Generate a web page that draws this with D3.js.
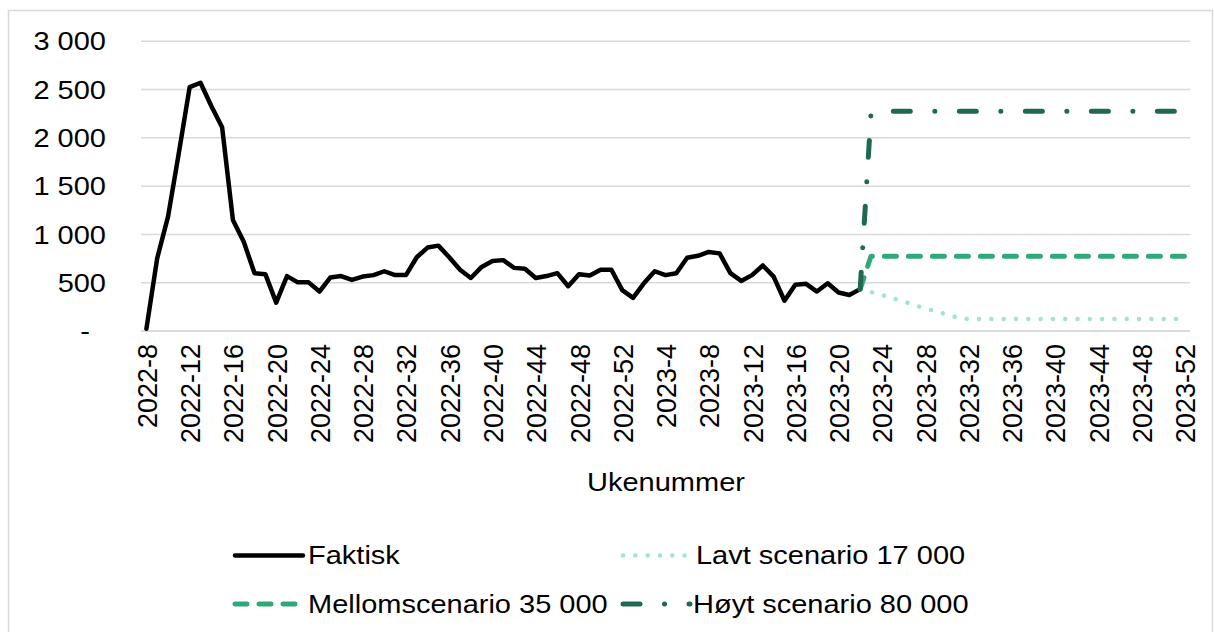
<!DOCTYPE html>
<html>
<head>
<meta charset="utf-8">
<script src="https://cdnjs.cloudflare.com/ajax/libs/d3/7.8.5/d3.min.js"></script>
<style>
  body { margin: 0; background: #fff; }
  text { font-family: "Liberation Sans", Arial, sans-serif; fill: #000; }
</style>
</head>
<body>
<script>
// week categories 2022-8 .. 2023-52
weeks = d3.range(8, 53).map(w => "2022-" + w).concat(d3.range(1, 53).map(w => "2023-" + w));
tickWeeks = weeks.filter((d, i) => i % 4 === 0);

yTicks = [0, 500, 1000, 1500, 2000, 2500, 3000];

// actual numbers, 2022-8 .. 2023-22
faktisk = [20, 750, 1180, 1840, 2520, 2565, 2325, 2105, 1145, 920,
  595, 585, 290, 565, 500, 500, 405, 550, 565, 525,
  560, 575, 615, 575, 575, 760, 860, 880, 760, 630,
  545, 660, 720, 730, 650, 640, 545, 565, 595, 460,
  585, 570, 630, 630, 420, 340, 490, 615, 575, 595,
  755, 775, 815, 800, 595, 515, 575, 675, 560, 310,
  475, 485, 405, 490, 395, 370, 430];

// scenarios, 2023-22 .. 2023-52
lavt = [430, 400, 370, 335, 305, 265, 230, 200, 170, 135,
  120, 120, 120, 120, 120, 120, 120, 120, 120, 120,
  120, 120, 120, 120, 120, 120, 120, 120, 120, 120, 120];
mellom = [430, 770, 770, 770, 770, 770, 770, 770, 770, 770,
  770, 770, 770, 770, 770, 770, 770, 770, 770, 770,
  770, 770, 770, 770, 770, 770, 770, 770, 770, 770, 770];
hoyt = [430, 2240, 2270, 2270, 2270, 2270, 2270, 2270, 2270, 2270,
  2270, 2270, 2270, 2270, 2270, 2270, 2270, 2270, 2270, 2270,
  2270, 2270, 2270, 2270, 2270, 2270, 2270, 2270, 2270, 2270, 2270];
scenStart = weeks.indexOf("2023-22");

seriesNames = ["Faktisk", "Lavt scenario 17 000", "Mellomscenario 35 000", "Høyt scenario 80 000"];

w = 1214;
h = 632;
SX = 1.16; // text in the source is a bit wide

styles = {
  "Faktisk": {color: "#000000", width: 4.5, dash: null},
  "Lavt scenario 17 000": {color: "#a3e4cd", width: 4.5, dash: "0.01,12.3"},
  "Mellomscenario 35 000": {color: "#31a878", width: 5, dash: "12,12"},
  "Høyt scenario 80 000": {color: "#1f6a4e", width: 5, dash: "17,24.5,0.01,24.5"}
};

svg = d3.select("body").append("svg")
  .attr("width", w)
  .attr("height", h);

svg.append("rect")
  .attr("x", 8.5).attr("y", 10.5)
  .attr("width", 1204).attr("height", 640)
  .attr("fill", "#fff")
  .attr("stroke", "#d9d9d9")
  .attr("stroke-width", 1.5);

x = d3.scalePoint().domain(weeks).range([141, 1190]).padding(0.5);
y = d3.scaleLinear().domain([0, 3000]).range([330.7, 40.7]);

fmt = d3.formatLocale({decimal: ",", thousands: "\u00a0", grouping: [3], currency: ["", ""]}).format(",d");

// y axis + gridlines
yAxis = svg.append("g")
  .attr("transform", "translate(141,0)")
  .call(d3.axisLeft(y).tickValues(yTicks).tickSize(-1049).tickFormat(v => v === 0 ? "-" : fmt(v)));
yAxis.select(".domain").remove();
yAxis.selectAll(".tick line").attr("stroke", "#d9d9d9").attr("stroke-width", 1.5);
yAxis.selectAll(".tick text")
  .attr("x", 0).attr("dy", "0.36em")
  .attr("font-size", 25)
  .attr("text-anchor", "end")
  .attr("transform", d => "translate(" + (d === 0 ? -51 : -35) + ",0) scale(" + SX + ",1)");

// x axis
xAxis = svg.append("g")
  .attr("transform", "translate(0,331)")
  .call(d3.axisBottom(x).tickValues(tickWeeks).tickSize(0));
xAxis.select(".domain").attr("stroke", "#d9d9d9").attr("stroke-width", 1.5)
  .attr("d", "M141,0H1190");
xAxis.selectAll(".tick text")
  .attr("x", 0).attr("y", 0).attr("dy", "0.36em")
  .attr("font-size", 27)
  .attr("text-anchor", "end")
  .attr("transform", "translate(0,13) scale(1.03,1) rotate(-90)");

svg.append("text")
  .attr("transform", "translate(666,491) scale(" + SX + ",1)")
  .attr("text-anchor", "middle")
  .attr("font-size", 25)
  .text("Ukenummer");

// lines
lineGen = d3.line().x(d => x(d.week)).y(d => y(d.value));

seriesData = [
  {name: seriesNames[0], pts: faktisk.map((v, i) => ({week: weeks[i], value: v}))},
  {name: seriesNames[1], pts: lavt.map((v, i) => ({week: weeks[scenStart + i], value: v}))},
  {name: seriesNames[2], pts: mellom.map((v, i) => ({week: weeks[scenStart + i], value: v}))},
  {name: seriesNames[3], pts: hoyt.map((v, i) => ({week: weeks[scenStart + i], value: v}))}
];

svg.selectAll(".series")
  .data(seriesData)
  .enter()
  .append("path")
    .attr("class", "series")
    .attr("d", d => lineGen(d.pts))
    .attr("fill", "none")
    .attr("stroke", d => styles[d.name].color)
    .attr("stroke-width", d => styles[d.name].width)
    .attr("stroke-linecap", "round")
    .attr("stroke-linejoin", "round")
    .attr("stroke-dasharray", d => styles[d.name].dash);

// legend
legendPos = [
  {name: seriesNames[0], x: 235, y: 555.5},
  {name: seriesNames[1], x: 623, y: 555.5},
  {name: seriesNames[2], x: 235, y: 604},
  {name: seriesNames[3], x: 623, y: 604}
];

legend = svg.selectAll(".legend")
  .data(legendPos)
  .enter()
  .append("g")
    .attr("class", "legend")
    .attr("transform", d => "translate(" + d.x + "," + d.y + ")");

legend.append("line")
  .attr("x1", 0).attr("x2", d => d.name === seriesNames[0] ? 68 : 67)
  .attr("y1", 0).attr("y2", 0)
  .attr("stroke", d => styles[d.name].color)
  .attr("stroke-width", d => styles[d.name].width)
  .attr("stroke-linecap", "round")
  .attr("stroke-dasharray", d => styles[d.name].dash);

legend.append("text")
  .attr("transform", d => "translate(" + (d.name === seriesNames[3] ? 70 : 73) + ",8.5) scale(" + SX + ",1)")
  .attr("font-size", 25)
  .text(d => d.name);
</script>
</body>
</html>
